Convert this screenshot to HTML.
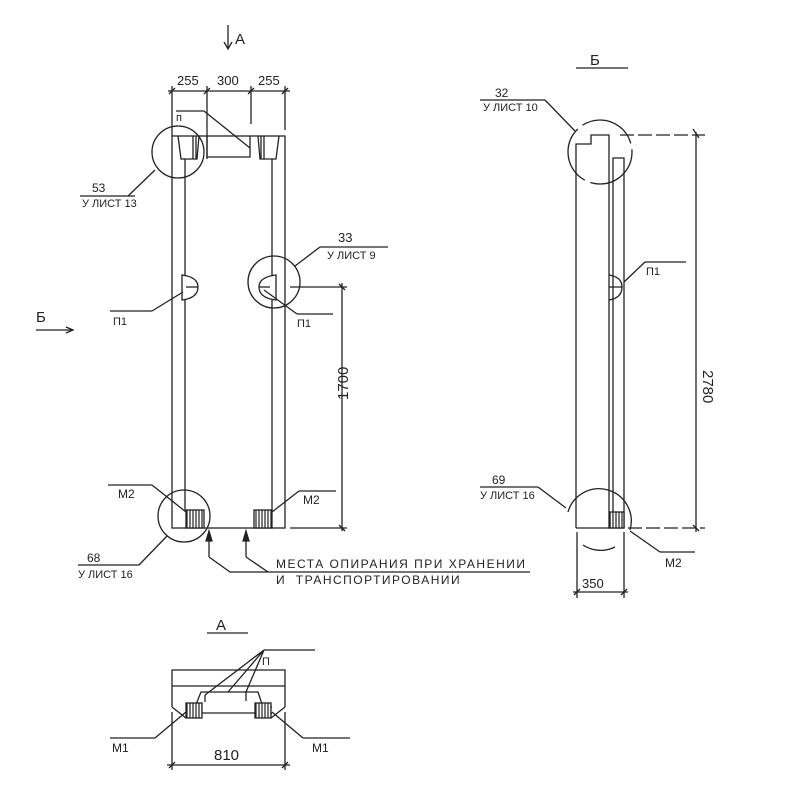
<!DOCTYPE html>
<html><head><meta charset="utf-8"><style>
body{margin:0;background:#fff}
svg{display:block}
text{font-family:"Liberation Sans","DejaVu Sans",sans-serif;fill:#222}
</style></head><body>
<svg width="800" height="800" viewBox="0 0 800 800" xmlns="http://www.w3.org/2000/svg" stroke="#222" stroke-width="1.3" fill="none">
<defs>
<pattern id="h" width="3" height="4" patternUnits="userSpaceOnUse"><rect width="3" height="4" fill="#fff" stroke="none"/><line x1="1" y1="0" x2="1" y2="4" stroke="#222" stroke-width="1.2"/></pattern>
</defs>
<!-- A label -->
<line x1="228" y1="25" x2="228" y2="48"/><path d="M224 42 L228 49 L232 42" />
<text x="235" y="44" font-size="15" stroke="none">A</text>
<!-- top dims -->
<line x1="168" y1="91" x2="290" y2="91"/>
<line x1="172" y1="86" x2="172" y2="136"/><line x1="207" y1="86" x2="207" y2="159"/>
<line x1="251" y1="86" x2="251" y2="124"/><line x1="285" y1="86" x2="285" y2="130"/>
<path d="M169 94 L175 88 M204 94 L210 88 M248 94 L254 88 M282 94 L288 88"/>
<text x="177" y="85" font-size="13" stroke="none">255</text>
<text x="217" y="85" font-size="13" stroke="none">300</text>
<text x="258" y="85" font-size="13" stroke="none">255</text>
<!-- front view -->
<rect x="172" y="136" width="113" height="392"/>
<line x1="185" y1="159" x2="185" y2="275"/><line x1="185" y1="300" x2="185" y2="510"/>
<line x1="272" y1="159" x2="272" y2="275"/><line x1="272" y1="300" x2="272" y2="510"/>
<path d="M178 136 L181 159 L197 159 L199 136 M193 136 L193 159 M196 136 L196 159"/>
<path d="M207 136 L207 157 L250 157 L250 136"/>
<path d="M279 136 L276 159 L260 159 L258 136 M264 136 L264 159 M261 136 L261 159"/>
<line x1="176" y1="111" x2="204" y2="111"/><line x1="204" y1="111" x2="250" y2="148"/>
<text x="176" y="121" font-size="11" stroke="none">п</text>
<circle cx="178" cy="152" r="26"/>
<line x1="155" y1="170" x2="128" y2="196"/><line x1="80" y1="196" x2="135" y2="196"/>
<text x="92" y="192" font-size="12" stroke="none">53</text>
<text x="82" y="207" font-size="11" stroke="none">У ЛИСТ 13</text>
<!-- P1 left -->
<path d="M182 275 L182 300 Q198 298 198 287 Q198 277 182 275 Z"/>
<line x1="186" y1="287" x2="198" y2="287"/>
<line x1="183" y1="292" x2="152" y2="311"/><line x1="110" y1="311" x2="152" y2="311"/>
<text x="113" y="325" font-size="11" stroke="none">П1</text>
<!-- P1 right -->
<path d="M276 275 L276 300 Q259 298 259 287 Q259 277 276 275 Z"/>
<line x1="259" y1="287" x2="270" y2="287"/>
<circle cx="274" cy="282" r="26"/>
<line x1="264" y1="290" x2="297" y2="314"/><line x1="297" y1="314" x2="333" y2="314"/>
<text x="297" y="327" font-size="11" stroke="none">П1</text>
<line x1="295" y1="266" x2="320" y2="247"/><line x1="320" y1="247" x2="388" y2="247"/>
<text x="338" y="242" font-size="13" stroke="none">33</text>
<text x="327" y="259" font-size="11" stroke="none">У ЛИСТ 9</text>
<!-- 1700 dim -->
<line x1="290" y1="287" x2="347" y2="287"/>
<line x1="342" y1="283" x2="342" y2="531"/>
<path d="M339 284 L345 290 M339 525 L345 531"/>
<line x1="290" y1="528" x2="347" y2="528"/>
<text transform="translate(348,400) rotate(-90)" font-size="15" stroke="none">1700</text>
<!-- Б arrow -->
<text x="36" y="322" font-size="15" stroke="none">Б</text>
<line x1="36" y1="330" x2="72" y2="330"/><path d="M66 327 L73 330 L66 333"/>
<!-- M2 -->
<rect x="186" y="510" width="18" height="18" fill="url(#h)"/>
<rect x="254" y="510" width="18" height="18" fill="url(#h)"/>
<line x1="108" y1="485" x2="152" y2="485"/><line x1="152" y1="485" x2="186" y2="512"/>
<text x="118" y="498" font-size="12" stroke="none">М2</text>
<line x1="272" y1="512" x2="299" y2="491"/><line x1="299" y1="491" x2="336" y2="491"/>
<text x="303" y="504" font-size="12" stroke="none">М2</text>
<circle cx="184" cy="516" r="26"/>
<line x1="167" y1="536" x2="139" y2="565"/><line x1="78" y1="565" x2="139" y2="565"/>
<text x="87" y="562" font-size="12" stroke="none">68</text>
<text x="78" y="578" font-size="11" stroke="none">У ЛИСТ 16</text>
<!-- support arrows -->
<line x1="209" y1="531" x2="209" y2="557"/><path d="M206 541 L209 531 L212 541 Z" fill="#222"/>
<line x1="246" y1="531" x2="246" y2="557"/><path d="M243 541 L246 531 L249 541 Z" fill="#222"/>
<path d="M209 557 L230 572 L530 572 M246 557 L268 572"/>
<text x="276" y="568" font-size="12" letter-spacing="1.5" stroke="none">МЕСТА ОПИРАНИЯ ПРИ ХРАНЕНИИ</text>
<text x="276" y="584" font-size="12" letter-spacing="1.5" stroke="none">И&#160;&#160;ТРАНСПОРТИРОВАНИИ</text>
<!-- Б view -->
<text x="590" y="65" font-size="15" stroke="none">Б</text>
<line x1="576" y1="68" x2="628" y2="68"/>
<path d="M576 528 L576 144 L591 144 L591 135 L609 135 L609 528 M613 528 L613 158 L624 158 L624 528 M576 528 L624 528"/>
<circle cx="600" cy="152" r="32" stroke-dasharray="60 6"/>
<line x1="575" y1="131" x2="545" y2="100"/><line x1="480" y1="100" x2="545" y2="100"/>
<text x="495" y="97" font-size="12" stroke="none">32</text>
<text x="483" y="111" font-size="11" stroke="none">У ЛИСТ 10</text>
<line x1="620" y1="135" x2="705" y2="135" stroke-dasharray="14 4"/>
<line x1="696" y1="132" x2="696" y2="532"/>
<line x1="628" y1="528" x2="705" y2="528" stroke-dasharray="14 4"/>
<path d="M693 129 L699 138 M693 525 L699 531"/>
<text transform="translate(703,370) rotate(90)" font-size="15" stroke="none">2780</text>
<path d="M609 275 Q622 277 622 287 Q622 298 609 300" /><line x1="609" y1="287" x2="622" y2="287"/>
<line x1="624" y1="282" x2="645" y2="262"/><line x1="645" y1="262" x2="686" y2="262"/>
<text x="646" y="275" font-size="11" stroke="none">П1</text>
<rect x="610" y="512" width="14" height="16" fill="url(#h)"/>
<path d="M568 512 A32 32 0 1 1 630 530" /><path d="M583 545 A32 32 0 0 0 615 547" />
<line x1="566" y1="508" x2="538" y2="487"/><line x1="480" y1="487" x2="538" y2="487"/>
<text x="492" y="484" font-size="12" stroke="none">69</text>
<text x="480" y="499" font-size="11" stroke="none">У ЛИСТ 16</text>
<line x1="630" y1="531" x2="660" y2="552"/><line x1="660" y1="552" x2="695" y2="552"/>
<text x="665" y="567" font-size="12" stroke="none">М2</text>
<line x1="577" y1="532" x2="577" y2="598"/><line x1="624" y1="532" x2="624" y2="598"/>
<line x1="573" y1="592" x2="628" y2="592"/>
<path d="M574 595 L580 589 M621 595 L627 589"/>
<text x="582" y="588" font-size="13" stroke="none">350</text>
<!-- A view -->
<text x="216" y="630" font-size="15" stroke="none">A</text>
<line x1="207" y1="633" x2="248" y2="633"/>
<path d="M172 707 L172 670 L285 670 L285 707 M172 686 L285 686"/>
<path d="M172 707 L186 718 M285 707 L271 718 M186 713 L272 713"/>
<path d="M186 707 L195 707 L201 692 L258 692 L263 707 L272 707"/>
<rect x="186" y="703" width="16" height="15" fill="url(#h)"/>
<rect x="255" y="703" width="16" height="15" fill="url(#h)"/>
<line x1="205" y1="695" x2="205" y2="702"/><line x1="246" y1="692" x2="246" y2="701"/>
<line x1="264" y1="650" x2="315" y2="650"/>
<path d="M264 650 L205 695 M264 650 L246 692 M264 650 L228 692"/>
<text x="262" y="665" font-size="11" stroke="none">П</text>
<line x1="110" y1="738" x2="155" y2="738"/><line x1="155" y1="738" x2="186" y2="712"/>
<text x="112" y="752" font-size="12" stroke="none">М1</text>
<line x1="272" y1="712" x2="303" y2="738"/><line x1="303" y1="738" x2="350" y2="738"/>
<text x="312" y="752" font-size="12" stroke="none">М1</text>
<line x1="172" y1="712" x2="172" y2="770"/><line x1="285" y1="712" x2="285" y2="770"/>
<line x1="167" y1="765" x2="290" y2="765"/>
<path d="M169 768 L175 762 M282 768 L288 762"/>
<text x="214" y="760" font-size="15" stroke="none">810</text>
</svg>
</body></html>
